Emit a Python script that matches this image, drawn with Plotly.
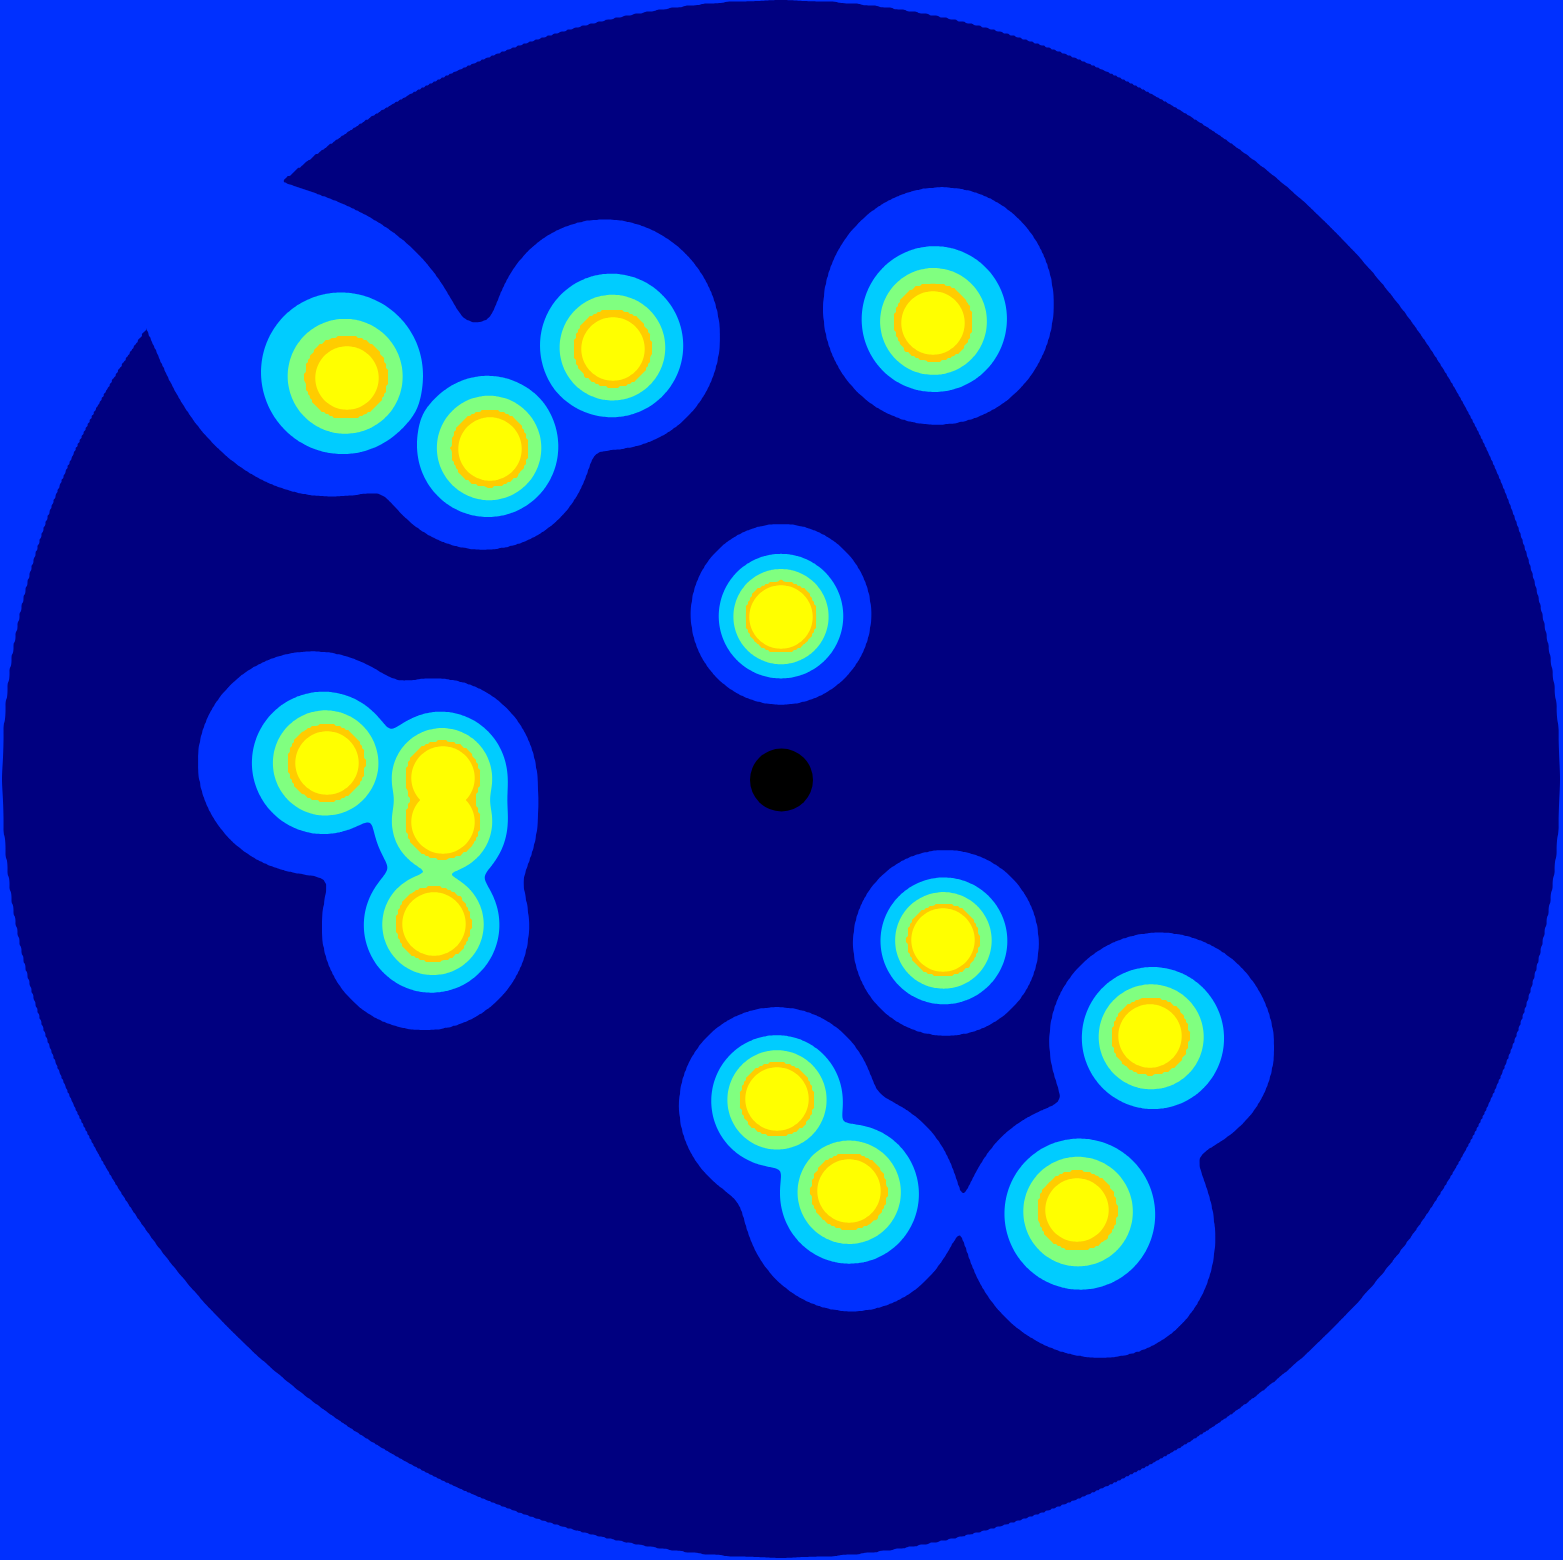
import numpy as np
import plotly.graph_objects as go

# ---- data (pixel coordinates, y downwards) ----
body_x = [347, 490, 613, 933, 781, 327, 443, 443, 434, 943, 1150, 777, 849, 1077]
body_y = [378, 449, 349, 323, 617, 763, 778, 822, 924, 940, 1036, 1099, 1191, 1210]
body_radius = 31.7

# field thresholds: blue, cyan, green, orange
level_thresholds = [0.0115, 0.0164, 0.0213, 0.0274]
background_coeff = 1.1e-8

disk_center = [781, 779]
disk_radius = 779
sun_xy = [781.5, 780]

band_colors = ["#000080", "#0030FF", "#00CCFF", "#80FF80", "#FFCC00", "#FFFF00"]

W, H = 1563, 1560
step = 2
xs = np.arange(0, W + step, step, dtype=float)
ys = np.arange(0, H + step, step, dtype=float)
X, Y = np.meshgrid(xs, ys)

R = np.sqrt((X - disk_center[0]) ** 2 + (Y - disk_center[1]) ** 2)
q = 12.0
S = np.zeros_like(X)
zb = np.full_like(X, -1e9)
for bx, by in zip(body_x, body_y):
    d = np.sqrt((X - bx) ** 2 + (Y - by) ** 2)
    S += (1.0 / np.maximum(d, 1.0)) ** q
    zb = np.maximum(zb, 5.0 + (body_radius - d) * 0.6)
f = S ** (1.0 / q) + background_coeff * R ** 2

Tb, Tc, Tg, To = level_thresholds
z = np.interp(f, [0, Tb, Tc, Tg, To, 1.0], [0, 1, 2, 3, 4, 4.9])
z = np.maximum(z, zb)
z = np.clip(z, 0, 6)
# outside the disk: blue band (continuous ramp to keep the rim smooth)
rim = np.clip(1.0 + (R - disk_radius) / 2.0, 0, 1.5)
outside = R > disk_radius - 4
z[outside] = np.where(R[outside] > disk_radius, np.maximum(np.minimum(z[outside], 1.9), rim[outside]),
                      np.maximum(z[outside], rim[outside]))
z = np.round(z, 3)

cscale = [[i / 5, c] for i, c in enumerate(band_colors)]

fig = go.Figure()
fig.add_trace(go.Contour(
    x=xs, y=ys, z=z,
    colorscale=cscale,
    autocontour=False,
    contours=dict(start=1, end=5, size=1, coloring="fill"),
    line=dict(width=0),
    showscale=False,
    hoverinfo="skip",
))
fig.add_trace(go.Scatter(
    x=[sun_xy[0]], y=[sun_xy[1]], mode="markers",
    marker=dict(size=63, color="black", line=dict(width=0)),
    hoverinfo="skip",
))
fig.update_layout(
    width=W, height=H,
    margin=dict(l=0, r=0, t=0, b=0),
    xaxis=dict(range=[0, W], visible=False, fixedrange=True),
    yaxis=dict(range=[H, 0], visible=False, fixedrange=True),
    showlegend=False,
    paper_bgcolor=band_colors[1],
    plot_bgcolor=band_colors[1],
)
fig.write_html("out.html")
